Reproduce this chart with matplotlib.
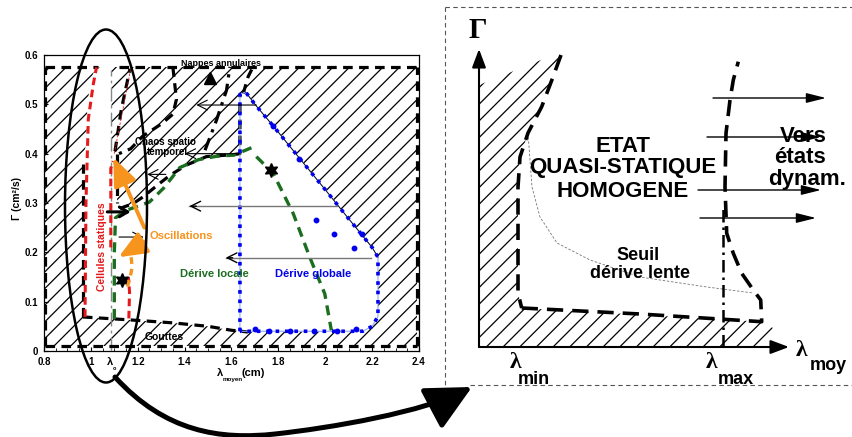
import numpy as np
import matplotlib
matplotlib.use('Agg')
import matplotlib.pyplot as plt
from matplotlib.patches import Polygon, Ellipse, FancyArrowPatch
from matplotlib.path import Path

plt.rcParams['font.family'] = ['Liberation Sans', 'DejaVu Sans']
plt.rcParams['hatch.linewidth'] = 0.9

# ---------------- LEFT PANEL DATA ----------------
x_ticks = [0.8, 1.0, 1.2, 1.4, 1.6, 1.8, 2.0, 2.2, 2.4]
x_tick_labels = ['0.8', '1', '1.2', '1.4', '1.6', '1.8', '2', '2.2', '2.4']
y_ticks = [0, 0.1, 0.2, 0.3, 0.4, 0.5, 0.6]
y_tick_labels = ['0', '0.1', '0.2', '0.3', '0.4', '0.5', '0.6']
lambda0 = 1.088

outer_x = [0.805, 2.393]
outer_y = [0.0095, 0.576]

white_x = [0.966, 0.966, 0.98, 0.985, 1.0, 1.02, 1.088, 1.088, 1.11, 1.112, 1.124, 1.181, 1.223,
           1.294, 1.337, 1.408, 1.493, 1.607, 1.636, 1.636, 1.66, 2.2, 2.225, 2.225, 2.2, 2.16,
           1.67, 1.6, 1.5, 1.35, 1.2, 1.1]
white_y = [0.069, 0.39, 0.42, 0.50, 0.55, 0.575, 0.575, 0.41, 0.40, 0.30, 0.289, 0.299, 0.3125,
           0.34, 0.356, 0.377, 0.394, 0.398, 0.40, 0.52, 0.525, 0.21, 0.19, 0.07, 0.05, 0.04,
           0.0386, 0.042, 0.05, 0.057, 0.062, 0.065]

# black dashed boundaries
gouttes_x = [0.966, 1.1, 1.2, 1.35, 1.5, 1.6, 1.67]
gouttes_y = [0.069, 0.065, 0.062, 0.057, 0.05, 0.042, 0.0386]
left_bd_x = [0.966, 0.966]
left_bd_y = [0.069, 0.38]
wedge1_x = [1.103, 1.13, 1.167]
wedge1_y = [0.405, 0.49, 0.572]
wedge2_x = [1.35, 1.365, 1.35, 1.30, 1.22, 1.17, 1.12]
wedge2_y = [0.575, 0.51, 0.48, 0.46, 0.435, 0.41, 0.40]
chaos_x = [1.112, 1.112]
chaos_y = [0.40, 0.30]
top_curve_x = [1.124, 1.181, 1.223, 1.294, 1.337, 1.408, 1.493, 1.607, 1.636, 1.636]
top_curve_y = [0.289, 0.299, 0.3125, 0.34, 0.356, 0.377, 0.394, 0.398, 0.40, 0.52]
nappes1_x = [1.487, 1.536, 1.579, 1.593]
nappes1_y = [0.407, 0.468, 0.529, 0.576]
nappes2_x = [1.65, 1.671, 1.692]
nappes2_y = [0.522, 0.556, 0.576]

# red (cellules statiques)
red1_x = [0.975, 0.979, 0.989, 1.01, 1.024]
red1_y = [0.069, 0.30, 0.47, 0.54, 0.575]
red2_x = [1.085, 1.085, 1.095]
red2_y = [0.21, 0.37, 0.385]
red3_x = [1.162, 1.165, 1.16]
red3_y = [0.066, 0.12, 0.15]

# green (dérive locale)
green_x = [1.10, 1.10, 1.105, 1.15, 1.25, 1.31, 1.38, 1.46, 1.54, 1.61, 1.69]
green_y = [0.065, 0.2, 0.27, 0.285, 0.302, 0.33, 0.372, 0.388, 0.395, 0.397, 0.413]
green2_x = [1.706, 1.778, 1.863, 1.934, 1.998, 2.026]
green2_y = [0.394, 0.36, 0.279, 0.19, 0.116, 0.042]

# blue (dérive globale)
blue_x = [1.636, 1.636, 1.66, 1.70, 1.78, 1.9, 2.0, 2.1, 2.2, 2.225, 2.225, 2.2, 2.16, 1.636]
blue_y = [0.04, 0.52, 0.525, 0.50, 0.455, 0.385, 0.327, 0.268, 0.21, 0.19, 0.07, 0.05, 0.04, 0.04]
blue_dots_x = [1.962, 2.038, 2.121, 2.157, 1.887, 1.775, 1.70, 1.76, 1.85, 1.95, 2.05, 2.13]
blue_dots_y = [0.265, 0.237, 0.209, 0.238, 0.389, 0.456, 0.045, 0.04, 0.04, 0.04, 0.04, 0.045]

# arrows: (x_start, y_start, x_end, y_end)
black_arrows = [(1.706, 0.4986, 1.45, 0.4986), (1.636, 0.40, 1.40, 0.40), (1.32, 0.358, 1.24, 0.358),
                (1.12, 0.231, 1.225, 0.231)]
gray_arrows = [(2.05, 0.2936, 1.42, 0.2936), (2.197, 0.189, 1.575, 0.189)]
bold_arrow = (1.07, 0.282, 1.17, 0.282)
orange_arrows = [(1.228, 0.25, 1.096, 0.392), (1.232, 0.222, 1.118, 0.19)]
orange_dash_x = [1.172, 1.176, 1.168, 1.155]
orange_dash_y = [0.19, 0.17, 0.15, 0.128]
stars_x = [1.77, 1.131]
stars_y = [0.367, 0.143]
triangle_x = [1.51]
triangle_y = [0.553]

# ---------------- FIGURE ----------------
fig = plt.figure(figsize=(8.52, 4.37), dpi=100)
ax = fig.add_axes([44 / 852, (437 - 351) / 437, 375 / 852, 296 / 437])
ax.set_xlim(0.8, 2.4)
ax.set_ylim(0, 0.6)
ax.set_xticks(x_ticks)
ax.set_xticklabels(x_tick_labels, fontsize=7, fontweight='bold')
ax.set_yticks(y_ticks)
ax.set_yticklabels(y_tick_labels, fontsize=7, fontweight='bold')
ax.set_xticks(np.arange(0.8, 2.401, 0.05), minor=True)
ax.tick_params(direction='in', length=3, width=0.8)
ax.tick_params(axis='x', pad=4.5)
ax.tick_params(axis='y', pad=4)
ax.tick_params(which='minor', direction='in', length=2, width=0.6)
for s in ax.spines.values():
    s.set_linewidth(0.9)

# hatched background and white region
hatch = Polygon([(outer_x[0], outer_y[0]), (outer_x[1], outer_y[0]), (outer_x[1], outer_y[1]),
                 (outer_x[0], outer_y[1])], closed=True, facecolor='white', edgecolor='black',
                lw=0, hatch='//', zorder=1)
ax.add_patch(hatch)
ax.add_patch(Polygon(np.column_stack([white_x, white_y]), closed=True, facecolor='white',
                     edgecolor='none', zorder=2))

bd = dict(color='black', lw=2.3, ls=(0, (3, 2)), zorder=4, solid_capstyle='butt', dash_capstyle='butt')
# outer rectangle
ax.plot([outer_x[0], 1.03], [outer_y[1]] * 2, **bd)
ax.plot([1.12, outer_x[1]], [outer_y[1]] * 2, **bd)
ax.plot(outer_x, [outer_y[0]] * 2, **bd)
ax.plot([outer_x[0]] * 2, outer_y, **bd)
ax.plot([outer_x[1]] * 2, outer_y, **bd)
for xs, ys in [(gouttes_x, gouttes_y), (left_bd_x, left_bd_y), (wedge1_x, wedge1_y),
               (wedge2_x, wedge2_y), (chaos_x, chaos_y), (top_curve_x, top_curve_y),
               (nappes2_x, nappes2_y)]:
    ax.plot(xs, ys, **bd)
ax.plot(nappes1_x, nappes1_y, color='black', lw=2.3, ls=(0, (4, 2, 1, 2)), zorder=4)

# lambda0 line
ax.plot([lambda0, lambda0], [0, 0.57], color='#888888', lw=1, ls=(0, (10, 3, 2, 3)), zorder=3)

# red
rd = dict(color='#e41a1c', lw=2.2, ls=(0, (2.5, 1.5)), zorder=5)
ax.plot(red1_x, red1_y, **rd)
ax.plot(red2_x, red2_y, **rd)
ax.plot(red3_x, red3_y, **rd)
ax.plot([1.10, 1.17], [0.40, 0.572], color='#e41a1c', lw=0.6, ls=(0, (3, 2)), zorder=4)

# green
gd = dict(color='#1b6e20', lw=2.4, ls=(0, (3, 2)), zorder=5)
ax.plot(green_x, green_y, **gd)
ax.plot(green2_x, green2_y, **gd)

# blue
ax.plot(blue_x, blue_y, color='#8fa8ff', lw=0.8, zorder=4)
ax.plot(blue_x, blue_y, color='#0000ee', lw=2.6, ls=(0, (1, 1.6)), zorder=5)
ax.plot(blue_x[2:10], blue_y[2:10], color='black', lw=0.6, zorder=4)
ax.plot(blue_dots_x, blue_dots_y, 'o', color='#0000ee', ms=3.2, zorder=6, ls='none')

# markers
ax.plot(stars_x, stars_y, marker=(6, 1, 0), color='black', ms=10, ls='none', zorder=7)
ax.plot(triangle_x, triangle_y, marker='^', color='black', ms=9, ls='none', zorder=7)


def arr(x0, y0, x1, y1, color, lw, style, ms=10, z=8):
    a = FancyArrowPatch((x0, y0), (x1, y1), arrowstyle=style, color=color, lw=lw,
                        mutation_scale=ms, shrinkA=0, shrinkB=0, zorder=z)
    ax.add_patch(a)


for (x0, y0, x1, y1) in black_arrows:
    arr(x0, y0, x1, y1, 'black', 0.8, '->,head_length=0.7,head_width=0.35')
for (x0, y0, x1, y1) in gray_arrows:
    ax.plot([x0, x1], [y0, y1], color='#777777', lw=1.0, zorder=8)
    arr(x1 + 0.03, y0, x1, y1, 'black', 1.0, '->,head_length=0.7,head_width=0.35')
arr(*bold_arrow, 'black', 2.2, '->,head_length=0.6,head_width=0.35')
for (x0, y0, x1, y1) in orange_arrows:
    arr(x0, y0, x1, y1, '#f7941d', 2.8, '-|>,head_length=1.2,head_width=0.5', ms=14, z=9)
ax.plot(orange_dash_x, orange_dash_y, color='#f7941d', lw=2.4, ls=(0, (2, 1.5)), zorder=9)

# texts in left panel
ax.text(1.557, 0.578, 'Nappes annulaires', fontsize=6.5, fontweight='bold', ha='center',
        va='baseline', zorder=10)
ax.text(1.32, 0.417, 'Chaos spatio', fontsize=7, fontweight='bold', ha='center', va='baseline', zorder=10)
ax.text(1.326, 0.397, 'temporel', fontsize=7, fontweight='bold', ha='center', va='baseline', zorder=10)
ax.text(1.311, 0.0216, 'Gouttes', fontsize=7.5, fontweight='bold', ha='center', va='baseline', zorder=10)
ax.text(1.252, 0.227, 'Oscillations', fontsize=8, fontweight='bold', color='#f7941d', ha='left',
        va='baseline', zorder=10)
ax.text(1.525, 0.149, 'Dérive locale', fontsize=8, fontweight='bold', color='#1b6e20', ha='center',
        va='baseline', zorder=10)
ax.text(1.948, 0.149, 'Dérive globale', fontsize=8, fontweight='bold', color='#0000ee', ha='center',
        va='baseline', zorder=10)
ax.text(1.049, 0.211, 'Cellules statiques', fontsize=7.5, fontweight='bold', color='#e41a1c',
        rotation=90, ha='center', va='center', zorder=10)

# ---------------- OVERLAY (pixel coordinates) ----------------
ov = fig.add_axes([0, 0, 1, 1])
ov.set_xlim(0, 852)
ov.set_ylim(437, 0)
ov.axis('off')
ov.set_zorder(10)

# axis labels of left panel
ov.text(110, 362, 'λ', fontsize=8, fontweight='bold', ha='center', va='center')
ov.text(114.5, 368.5, 'o', fontsize=4, fontweight='bold', ha='center', va='center')
ov.text(223, 373, 'λ', fontsize=8, fontweight='bold', ha='right', va='center')
ov.text(223, 379, 'moyen', fontsize=4.5, fontweight='bold', ha='left', va='center')
ov.text(242, 373, '(cm)', fontsize=8, fontweight='bold', ha='left', va='center')
ov.text(17, 198, 'Γ (cm²/s)', fontsize=7.5, fontweight='bold', rotation=90, ha='center', va='center')

# ellipse
ov.add_patch(Ellipse((106, 206), 82, 353, fill=False, lw=1.8, edgecolor='black', zorder=5))

# big curved arrow
verts = [(115, 377), (165, 432), (220, 440), (275, 434), (330, 428), (425, 412), (472, 387)]
codes = [Path.MOVETO, Path.CURVE4, Path.CURVE4, Path.CURVE4, Path.CURVE4, Path.CURVE4, Path.CURVE4]
big = FancyArrowPatch(path=Path(verts, codes), arrowstyle='-|>,head_length=1.4,head_width=0.7',
                      mutation_scale=20, lw=3.6, color='black', zorder=6)
ov.add_patch(big)

# ---------------- RIGHT PANEL (pixel coordinates) ----------------
box = dict(color='#555555', lw=0.8, ls=(0, (4, 3)))
ov.plot([445, 852], [7, 7], **box)
ov.plot([445, 445], [7, 385], **box)
ov.plot([470, 852], [385, 385], **box)

r_hatch_x = [479, 479, 561, 553, 541.7, 528, 520, 518, 518, 521.7, 761.7, 773, 762]
r_hatch_y = [347, 85, 52, 77, 106.7, 133, 157, 187, 293, 308, 321.7, 328, 347]
ov.add_patch(Polygon(np.column_stack([r_hatch_x, r_hatch_y]), closed=True, facecolor='none',
                     edgecolor='black', lw=0, hatch='//', zorder=1))

r1_x = [561, 553, 541.7, 528, 520, 518, 518, 521.7]
r1_y = [55, 77, 106.7, 133, 157, 187, 293, 308]
r2_x = [521.7, 640, 761.7, 760.7, 753.3, 741.7, 733.3, 726.7, 725, 726, 730, 733.3, 738.3]
r2_y = [308, 314, 321.7, 300, 290, 273.3, 253.3, 233.3, 186.7, 133.3, 100, 80, 61.7]
rd2 = dict(color='black', lw=2.6, ls=(0, (4.5, 2.5)), zorder=4)
ov.plot(r1_x, r1_y, **rd2)
ov.plot(r2_x, r2_y, **rd2)
ov.plot([723.3, 723.3], [346.7, 205], color='black', lw=1.8, ls=(0, (5, 2, 1, 2)), zorder=4)

seuil_x = [528, 530, 532, 540, 557, 590, 640, 707, 753]
seuil_y = [133, 160, 187, 217, 243, 260, 277, 287, 293]
ov.plot(seuil_x, seuil_y, color='#777777', lw=0.6, ls=(0, (3, 2)), zorder=3)

# axes arrows
ov.add_patch(FancyArrowPatch((479, 347), (479, 49), arrowstyle='-|>,head_length=0.8,head_width=0.3',
                             mutation_scale=14, lw=1.5, color='black', shrinkA=0, shrinkB=0, zorder=5))
ov.add_patch(FancyArrowPatch((479, 347), (789, 347), arrowstyle='-|>,head_length=0.8,head_width=0.3',
                             mutation_scale=14, lw=1.5, color='black', shrinkA=0, shrinkB=0, zorder=5))

# right arrows
right_arrows = [(713, 98, 826, 98), (707, 137, 821, 137), (698, 190, 821, 190), (700, 218, 816, 218)]
for (x0, y0, x1, y1) in right_arrows:
    ov.add_patch(FancyArrowPatch((x0, y0), (x1, y1), arrowstyle='-|>,head_length=1.0,head_width=0.25',
                                 mutation_scale=12, lw=1.0, color='black', shrinkA=0, shrinkB=0, zorder=6))

serif = ['Liberation Serif', 'DejaVu Serif']
ov.text(478, 30, 'Γ', fontsize=21, fontweight='bold', family=serif, ha='center', va='center')
ov.text(516, 363, 'λ', fontsize=17, fontweight='bold', family=serif, ha='center', va='center')
ov.text(518, 384, 'min', fontsize=13, fontweight='bold', ha='left', va='baseline')
ov.text(711, 363, 'λ', fontsize=17, fontweight='bold', family=serif, ha='center', va='center')
ov.text(718, 384, 'max', fontsize=13, fontweight='bold', ha='left', va='baseline')
ov.text(801, 350, 'λ', fontsize=17, fontweight='bold', family=serif, ha='center', va='center')
ov.text(810, 370, 'moy', fontsize=13, fontweight='bold', ha='left', va='baseline')

for t, yb in [('ETAT', 152), ('QUASI-STATIQUE', 173.3), ('HOMOGENE', 196.7)]:
    ov.text(623, yb, t, fontsize=16, fontweight='bold', ha='center', va='baseline', zorder=7)
for t, xc, yb in [('Vers', 803, 141.7), ('états', 800, 163.3), ('dynam.', 807, 185)]:
    ov.text(xc, yb, t, fontsize=16, fontweight='bold', ha='center', va='baseline', zorder=7)
ov.text(638, 260, 'Seuil', fontsize=13, fontweight='bold', ha='center', va='baseline', zorder=7)
ov.text(640, 278, 'dérive lente', fontsize=13, fontweight='bold', ha='center', va='baseline', zorder=7)

fig.savefig('out.png', dpi=100)
